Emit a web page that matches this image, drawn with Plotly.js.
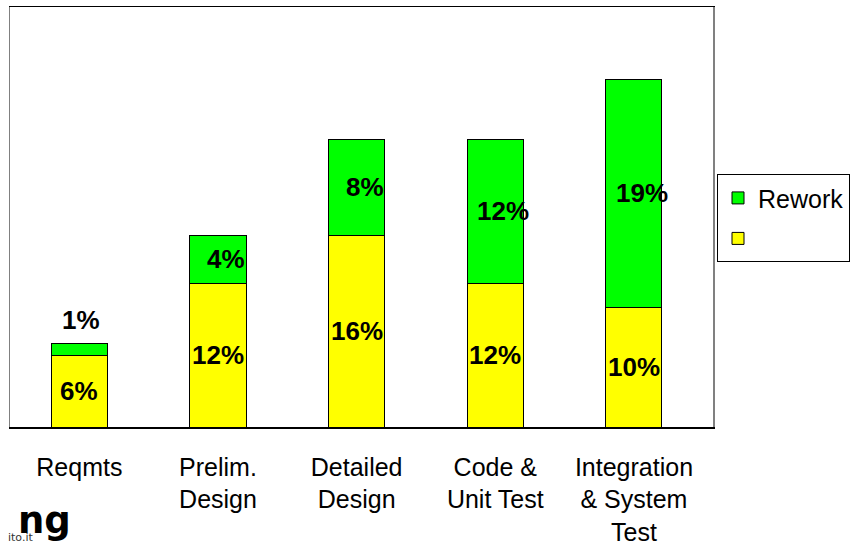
<!DOCTYPE html>
<html>
<head>
<meta charset="utf-8">
<script src="https://cdn.plot.ly/plotly-3.0.1.min.js"></script>
<style>html,body{margin:0;padding:0;background:#fff;}#chart{width:851px;height:544px;}</style>
</head>
<body>
<div id="chart"></div>
<script>
const categories = ["Reqmts", "Prelim.<br>Design", "Detailed<br>Design", "Code &<br>Unit Test", "Integration<br>& System<br>Test"];
const baseValues = [6, 12, 16, 12, 10];
const reworkValues = [1, 4, 8, 12, 19];
const baseName = " ";
const reworkName = "Rework";

const traces = [
  {type: "bar", x: categories, y: baseValues, name: baseName, legendgroup: "b", legendrank: 2,
   marker: {color: "#FFFF00", line: {color: "#000000", width: 1}}, hoverinfo: "none"},
  {type: "bar", x: categories, y: reworkValues, name: reworkName, legendgroup: "a", legendrank: 1,
   marker: {color: "#00FF00", line: {color: "#000000", width: 1}}, hoverinfo: "none"}
];

const labelFont = {family: "Liberation Sans, Arial, sans-serif", size: 26, color: "#000"};
const annotations = [];
categories.forEach((c, i) => {
  annotations.push({x: c, y: baseValues[i] / 2, text: "<b>" + baseValues[i] + "%</b>",
    showarrow: false, xanchor: "center", yanchor: "middle", font: labelFont});
  const small = reworkValues[i] < 2;
  annotations.push({x: c,
    y: small ? baseValues[i] + reworkValues[i] : baseValues[i] + reworkValues[i] / 2,
    text: "<b>" + reworkValues[i] + "%</b>", showarrow: false,
    xanchor: "center", yanchor: small ? "bottom" : "middle",
    xshift: small ? 2 : 8, yshift: small ? 6 : 0, font: labelFont});
});
annotations.push({xref: "paper", yref: "paper", x: 0, y: 0, xanchor: "right", yanchor: "top",
  xshift: 63, yshift: -70, text: "<b>ng</b>", showarrow: false,
  font: {family: "DejaVu Sans, sans-serif", size: 37, color: "#000"}});
annotations.push({xref: "paper", yref: "paper", x: 0, y: 0, xanchor: "right", yanchor: "top",
  xshift: 25, yshift: -102, text: "ito.it", showarrow: false,
  font: {family: "DejaVu Sans, sans-serif", size: 11, color: "#333"}});

const layout = {
  width: 851, height: 544,
  margin: {l: 10, r: 138, t: 7, b: 117, pad: 0, autoexpand: false},
  paper_bgcolor: "#fff", plot_bgcolor: "#fff",
  barmode: "stack", bargap: 0.596,
  showlegend: true,
  legend: {x: 1.0057, xanchor: "left", y: 0.602, yanchor: "top",
    traceorder: "grouped", tracegroupgap: 5,
    bordercolor: "#000", borderwidth: 1, bgcolor: "#fff",
    font: {family: "Liberation Sans, Arial, sans-serif", size: 25, color: "#000"}},
  xaxis: {type: "category", range: [-0.5, 4.57], showline: true, mirror: true,
    linecolor: "#000", linewidth: 1.5, ticks: "", showgrid: false, zeroline: false,
    ticklabelstandoff: 17,
    tickfont: {family: "Liberation Sans, Arial, sans-serif", size: 25, color: "#000"}},
  yaxis: {range: [0, 35], showline: true, mirror: true, linecolor: "#808080", linewidth: 1.5,
    showgrid: false, zeroline: false, showticklabels: false, ticks: ""},
  annotations: annotations
};

Plotly.newPlot("chart", traces, layout, {staticPlot: true});
</script>
</body>
</html>
